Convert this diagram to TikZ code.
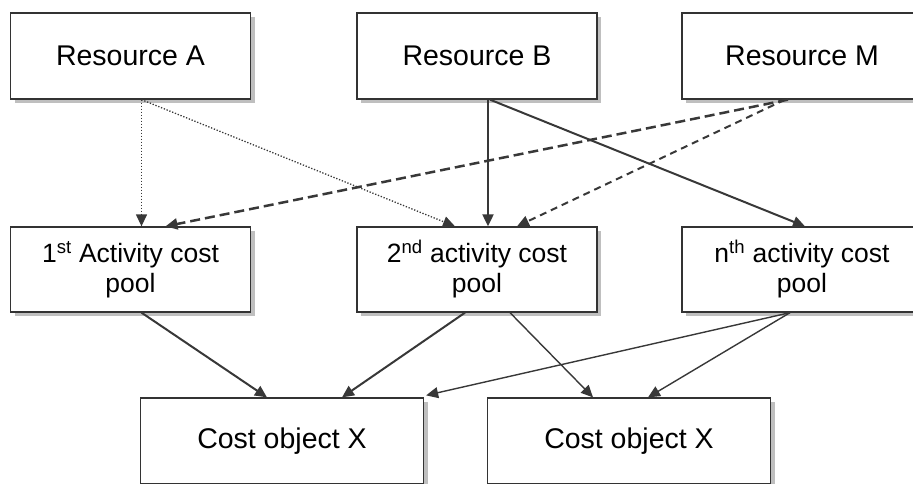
\documentclass[tikz,border=0pt]{standalone}
\usepackage{fontspec}
\setmainfont{Liberation Sans}
\usetikzlibrary{arrows.meta,shadows}
\begin{document}
\begin{tikzpicture}[x=1pt,y=-1pt]
		\tikzstyle{bloc} = [rectangle,draw=black!80,line width=1.3pt,fill=white,text=black,align=center,inner sep=0pt,
			drop shadow={shadow xshift=4pt,shadow yshift=-4pt,fill=black!25,opacity=1}]
		\tikzstyle{ressource} = [bloc,minimum width=240pt,minimum height=86pt,font=\fontsize{28.5}{33}\selectfont]
		\tikzstyle{pool} = [bloc,minimum width=240pt,minimum height=85pt,font=\fontsize{26.5}{30}\selectfont]
		\tikzstyle{objet} = [bloc,minimum width=283pt,minimum height=86pt,font=\fontsize{28.5}{33}\selectfont]
		\tikzstyle{trait} = [-{Triangle[length=12pt,width=11pt]},draw=black!78,line width=2pt]
		\tikzstyle{mince} = [trait,line width=1.4pt]
		\tikzstyle{pointille} = [trait,line width=1.3pt,dash pattern=on 1.3pt off 1.7pt]
		\tikzstyle{tirets} = [trait,line width=2.5pt,dash pattern=on 10pt off 5pt]
		\tikzstyle{tiretsfins} = [trait,line width=2pt,dash pattern=on 7pt off 5pt]
		
		\useasboundingbox (0,0) rectangle (913,483);
		\clip (0,0) rectangle (913,483);
		
		\node[ressource](resA) at (130.5,56) {Resource A};
		\node[ressource](resB) at (477,56) {Resource B};
		\node[ressource](resM) at (802,56) {Resource M};
		
		\node[pool](act1) at (130.5,269.5) {1\textsuperscript{st} Activity cost\\pool};
		\node[pool](act2) at (477,269.5) {2\textsuperscript{nd} activity cost\\pool};
		\node[pool](actN) at (802,269.5) {n\textsuperscript{th} activity cost\\pool};
		
		\node[objet](costL) at (282,441) {Cost object X};
		\node[objet](costR) at (629,441) {Cost object X};
		
		\draw[pointille] ([xshift=11pt]resA.south) -- ([xshift=11pt]act1.north);
		\draw[pointille] ([xshift=11pt]resA.south) -- ([xshift=-22pt]act2.north);
		\draw[trait] ([xshift=11pt]resB.south) -- ([xshift=11pt]act2.north);
		\draw[trait] ([xshift=13pt]resB.south) -- ([xshift=3pt]actN.north);
		\draw[tirets] ([xshift=-14pt]resM.south) -- ([xshift=35pt]act1.north);
		\draw[tiretsfins] ([xshift=-17pt]resM.south) -- ([xshift=40pt]act2.north);
		
		\draw[trait] ([xshift=11pt]act1.south) -- ([xshift=-15pt]costL.north);
		\draw[trait] ([xshift=-12pt]act2.south) -- ([xshift=60pt]costL.north);
		\draw[mince] ([xshift=33pt]act2.south) -- ([xshift=-36pt]costR.north);
		\draw[mince] ([xshift=-12pt]actN.south) -- ([xshift=2pt,yshift=2pt]costL.north east);
		\draw[mince] ([xshift=-12pt]actN.south) -- ([xshift=19pt]costR.north);
\end{tikzpicture}
\end{document}
